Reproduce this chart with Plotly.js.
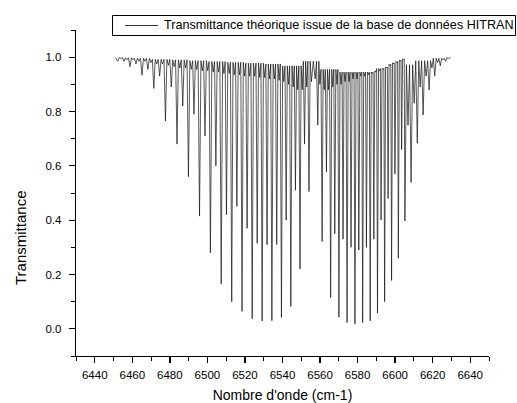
<!DOCTYPE html>
<html><head><meta charset="utf-8">
<script src="https://cdn.plot.ly/plotly-3.0.1.min.js"></script>
<style>html,body{margin:0;padding:0;background:#fff}#chart{width:517px;height:403px}</style>
</head><body><div id="chart"></div>
<script>
// P-branch lines (J = 1 .. 37): wavenumber (cm-1) and minimum transmittance
const pBranchCm = [6554.11,6551.73,6549.32,6546.89,6544.43,6541.95,6539.44,6536.91,6534.35,6531.77,
  6529.15,6526.52,6523.85,6521.15,6518.45,6515.7,6512.95,6510.15,6507.35,6504.5,
  6501.6,6498.7,6495.8,6492.85,6489.9,6486.85,6483.8,6480.75,6477.65,6474.55,
  6471.45,6468.3,6465.15,6461.95,6458.75,6455.5,6452.25];
const pBranchT = [0.505,0.68,0.22,0.51,0.082,0.40,0.042,0.31,0.030,0.31,
  0.029,0.315,0.037,0.37,0.064,0.45,0.10,0.42,0.165,0.60,
  0.28,0.71,0.415,0.79,0.56,0.82,0.68,0.89,0.765,0.93,
  0.885,0.955,0.934,0.975,0.965,0.985,0.985];
// R-branch lines (J = 0 .. 38)
const rBranchCm = [6558.8,6561.1,6563.4,6565.65,6567.85,6570.05,6572.25,6574.4,6576.5,6578.6,
  6580.65,6582.7,6584.7,6586.7,6588.65,6590.6,6592.5,6594.4,6596.25,6598.1,
  6599.9,6601.7,6603.45,6605.2,6606.85,6608.5,6610.15,6611.8,6613.35,6614.9,
  6616.5,6618.1,6619.6,6621.1,6622.6,6624.05,6625.5,6626.9,6628.3];
const rBranchT = [0.75,0.321,0.578,0.115,0.35,0.043,0.33,0.023,0.30,0.018,
  0.29,0.023,0.30,0.029,0.33,0.058,0.40,0.10,0.48,0.178,
  0.57,0.26,0.66,0.397,0.75,0.539,0.83,0.683,0.89,0.787,
  0.93,0.879,0.96,0.93,0.98,0.968,0.99,0.985,0.995];
// weaker (hot band / isotopic) lines
const weakCm = [6453.9,6457.1,6460.3,6463.5,6466.7,6469.9,6473.0,6476.1,6479.2,6482.3,
  6485.3,6488.4,6491.4,6494.3,6497.3,6500.2,6503.1,6505.9,6508.8,6511.6,
  6514.3,6517.1,6519.8,6522.5,6525.2,6527.9,6530.5,6533.1,6535.7,6538.2,
  6540.7,6543.2,6545.7,6548.1,6550.5,6552.9,6555.4,6557.4,6559.9,6562.2,
  6564.5,6566.8,6569.0,6571.2,6573.3,6575.5,6577.6,6579.7,6581.8,6583.8,
  6585.8,6587.8,6589.7,6591.7,6593.6,6595.4,6597.3,6599.1,6601.0,6602.8,6604.5];
const weakT = [0.995,0.99,0.99,0.985,0.985,0.98,0.975,0.975,0.97,0.965,
  0.96,0.96,0.955,0.955,0.95,0.95,0.945,0.945,0.94,0.94,
  0.935,0.935,0.93,0.93,0.93,0.925,0.925,0.92,0.92,0.915,
  0.91,0.90,0.89,0.88,0.88,0.89,0.91,0.92,0.90,0.88,
  0.88,0.89,0.90,0.90,0.91,0.91,0.92,0.92,0.93,0.93,
  0.935,0.94,0.945,0.95,0.955,0.96,0.97,0.975,0.98,0.985,0.99];
// local maxima level between lines, per 10 cm-1 bin
const envelopeStartCm = [6450,6460,6470,6480,6490,6500,6510,6520,6530,6540,6550,6560,6570,6580,6590,6600,6610,6620];
const envelopeT = [0.998,0.996,0.992,0.99,0.987,0.984,0.981,0.978,0.975,0.968,0.985,0.955,0.945,0.945,0.958,0.972,0.987,0.996];
const spectrumEndsCm = [6451.0, 6629.6];
const spectrumEndsT = [0.998, 0.998];

const xTickVals = [6440,6460,6480,6500,6520,6540,6560,6580,6600,6620,6640];
const xMinorVals = [6430,6450,6470,6490,6510,6530,6550,6570,6590,6610,6630,6650];
const yTickVals = [0.0,0.2,0.4,0.6,0.8,1.0];
const yTickText = ['0.0','0.2','0.4','0.6','0.8','1.0'];
const yMinorVals = [-0.1,0.1,0.3,0.5,0.7,0.9,1.1];
const seriesName = 'Transmittance théorique issue de la base de données HITRAN';

// assemble the polyline: line minima joined through the local maxima between them
const dips = [];
pBranchCm.forEach((c,i)=>dips.push([c,pBranchT[i]]));
rBranchCm.forEach((c,i)=>dips.push([c,rBranchT[i]]));
weakCm.forEach((c,i)=>dips.push([c,weakT[i]]));
dips.sort((a,b)=>a[0]-b[0]);
function envAt(cm){let k=0;for(let j=0;j<envelopeStartCm.length;j++){if(envelopeStartCm[j]<=cm)k=j;}return envelopeT[k];}
const xs=[spectrumEndsCm[0]], ys=[spectrumEndsT[0]];
dips.forEach((d,i)=>{
  if(i>0){const prev=dips[i-1];const mid=(prev[0]+d[0])/2;
    xs.push(mid); ys.push(Math.max(envAt(mid), Math.max(prev[1],d[1])+0.004));}
  xs.push(d[0]); ys.push(d[1]);
});
xs.push(spectrumEndsCm[1]); ys.push(spectrumEndsT[1]);

const trace = {x:xs, y:ys, type:'scatter', mode:'lines', name:seriesName,
  line:{color:'#111', width:0.7}, showlegend:false};

const axisCommon = {showgrid:false, zeroline:false, showline:true, linecolor:'#000', linewidth:1.3,
  ticks:'outside', tickcolor:'#000', tickwidth:1.3, ticklen:6, mirror:false,
  tickfont:{size:11.5}};
const layout = {
  width:517, height:403,
  margin:{l:76, r:28, t:30, b:47},
  paper_bgcolor:'#fff', plot_bgcolor:'#fff',
  font:{family:'"Liberation Sans", Arial, sans-serif', size:11.5, color:'#000'},
  showlegend:false,
  xaxis:Object.assign({}, axisCommon, {range:[6430,6650], tickmode:'array', tickvals:xTickVals,
    ticklabelstandoff:2,
    minor:{tickmode:'array', tickvals:xMinorVals, ticks:'outside', ticklen:3.5, tickwidth:1, tickcolor:'#000'},
    title:{text:"Nombre d'onde (cm-1)", font:{size:14}, standoff:15}}),
  yaxis:Object.assign({}, axisCommon, {range:[-0.1,1.1], tickmode:'array', tickvals:yTickVals, ticktext:yTickText,
    ticklabelstandoff:5,
    minor:{tickmode:'array', tickvals:yMinorVals, ticks:'outside', ticklen:3.5, tickwidth:1, tickcolor:'#000'}}),
  shapes:[
    {type:'rect', xref:'paper', yref:'paper', x0:(112.5-76)/413, x1:(515.5-76)/413,
      y0:(356-35.5)/326, y1:(356-15.5)/326, line:{color:'#000', width:1}, fillcolor:'#fff', layer:'above'},
    {type:'line', xref:'paper', yref:'paper', x0:(125-76)/413, x1:(158-76)/413,
      y0:(356-25.5)/326, y1:(356-25.5)/326, line:{color:'#333', width:1}, layer:'above'}
  ],
  annotations:[
    {text:seriesName, xref:'paper', yref:'paper', x:(162-76)/413, y:(356-25.5)/326,
      xanchor:'left', yanchor:'middle', showarrow:false, font:{size:12.6}},
    {text:'Transmittance', xref:'paper', yref:'paper', x:(20-76)/413, y:(356-238)/326,
      xanchor:'center', yanchor:'middle', textangle:-90, showarrow:false, font:{size:15}}
  ]
};
Plotly.newPlot('chart',[trace],layout,{displayModeBar:false, staticPlot:true});
</script></body></html>
